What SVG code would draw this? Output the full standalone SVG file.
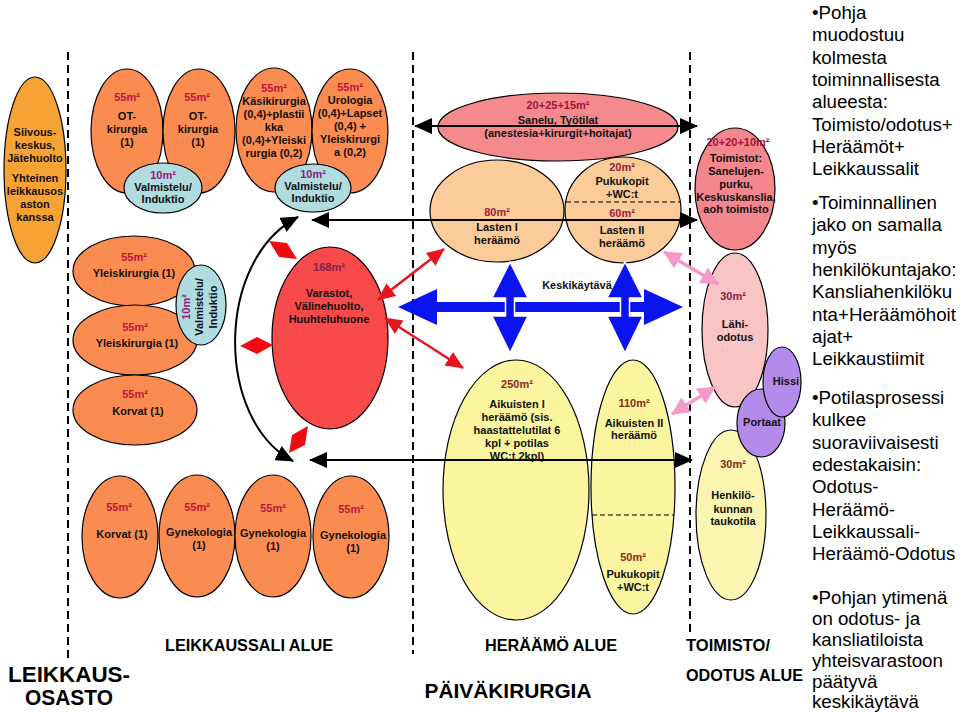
<svg xmlns="http://www.w3.org/2000/svg" width="960" height="713" viewBox="0 0 960 713">
<defs>
<style>
.n{stroke:#000;stroke-width:1.2}
.or{fill:#FA8C52}
.bl{fill:#B0DCE0}
.t{font-family:"Liberation Sans",Arial,sans-serif;font-weight:bold;font-size:11px;text-anchor:middle;fill:#111}
.r{fill:#C0163C}
.m{fill:#8E1A7E}
.br{fill:#8B2A20}
.side{font-family:"Liberation Sans",Arial,sans-serif;font-size:18.7px;fill:#000}
.lab{font-family:"Liberation Sans",Arial,sans-serif;font-weight:bold;fill:#000}
.dash{stroke:#000;stroke-width:2;stroke-dasharray:8 5;fill:none}
.blk{stroke:#000;stroke-width:2;fill:none;marker-start:url(#ab);marker-end:url(#ab)}
.red{stroke:#E8141E;stroke-width:2.5;fill:none;marker-start:url(#ar);marker-end:url(#ar)}
.pink{stroke:#F39AC9;stroke-width:3.5;fill:none;marker-start:url(#ap);marker-end:url(#ap)}
.blu{fill:#0A14F0;stroke:#fff;stroke-width:1.5}
.dia{fill:#F00A14}
</style>
<marker id="ab" viewBox="0 0 18 16" refX="17" refY="8" markerWidth="18" markerHeight="16" markerUnits="userSpaceOnUse" orient="auto-start-reverse"><path d="M0,0 L18,8 L0,16 z" fill="#000"/></marker>
<marker id="ar" viewBox="0 0 18 16" refX="17" refY="8" markerWidth="18" markerHeight="16" markerUnits="userSpaceOnUse" orient="auto-start-reverse"><path d="M0,0 L18,8 L0,16 z" fill="#E8141E"/></marker>
<marker id="ap" viewBox="0 0 18 18" refX="17" refY="9" markerWidth="18" markerHeight="18" markerUnits="userSpaceOnUse" orient="auto-start-reverse"><path d="M0,0 L18,9 L0,18 z" fill="#F39AC9"/></marker>
</defs>
<rect width="960" height="713" fill="#fff"/>

<g id="dividers">
<line class="dash" x1="68" y1="52" x2="68" y2="658"/>
<line class="dash" x1="413" y1="52" x2="413" y2="654"/>
<line class="dash" x1="690" y1="52" x2="690" y2="636"/>
</g>

<g id="n-siivous">
<ellipse class="n" cx="35" cy="170" rx="31" ry="93" fill="#F7A234"/>
<text class="t"><tspan x="35" y="136">Siivous-</tspan><tspan x="35" y="149">keskus,</tspan><tspan x="35" y="162">Jätehuolto</tspan><tspan x="35" y="182">Yhteinen</tspan><tspan x="35" y="195">leikkausos</tspan><tspan x="35" y="208">aston</tspan><tspan x="35" y="221">kanssa</tspan></text>
</g>
<g id="n-ot1">
<ellipse class="n or" cx="127" cy="131" rx="36" ry="62"/>
<text class="t"><tspan class="r" x="127" y="101">55m²</tspan><tspan x="127" y="120">OT-</tspan><tspan x="127" y="133">kirurgia</tspan><tspan x="127" y="146">(1)</tspan></text>
</g>
<g id="n-ot2">
<ellipse class="n or" cx="199" cy="131" rx="36" ry="62"/>
<text class="t"><tspan class="r" x="197" y="101">55m²</tspan><tspan x="198" y="120">OT-</tspan><tspan x="198" y="133">kirurgia</tspan><tspan x="198" y="146">(1)</tspan></text>
</g>
<g id="n-val1">
<ellipse class="n bl" cx="163" cy="188" rx="39" ry="25"/>
<text class="t"><tspan class="m" x="163" y="179">10m²</tspan><tspan x="163" y="191">Valmistelu/</tspan><tspan x="163" y="203">Induktio</tspan></text>
</g>
<g id="n-kasi">
<ellipse class="n or" cx="274" cy="130" rx="38" ry="62"/>
<text class="t"><tspan class="r" x="274" y="92">55m²</tspan><tspan x="274" y="105">Käsikirurgia</tspan><tspan x="274" y="118">(0,4)+plastii</tspan><tspan x="274" y="131">kka</tspan><tspan x="274" y="144">(0,4)+Yleiski</tspan><tspan x="274" y="157">rurgia (0,2)</tspan></text>
</g>
<g id="n-uro">
<ellipse class="n or" cx="350" cy="131" rx="38" ry="62"/>
<text class="t"><tspan class="r" x="350" y="91">55m²</tspan><tspan x="350" y="104">Urologia</tspan><tspan x="350" y="117">(0,4)+Lapset</tspan><tspan x="350" y="130">(0,4) +</tspan><tspan x="350" y="143">Yleiskirurgi</tspan><tspan x="350" y="156">a (0,2)</tspan></text>
</g>
<g id="n-val2">
<ellipse class="n bl" cx="313" cy="188" rx="38" ry="24"/>
<text class="t"><tspan class="m" x="313" y="178">10m²</tspan><tspan x="313" y="190">Valmistelu/</tspan><tspan x="313" y="202">Induktio</tspan></text>
</g>
<g id="n-yleis1">
<ellipse class="n or" cx="134" cy="271" rx="61" ry="35"/>
<text class="t"><tspan class="r" x="134" y="261">55m²</tspan><tspan x="134" y="277">Yleiskirurgia (1)</tspan></text>
</g>
<g id="n-yleis2">
<ellipse class="n or" cx="135" cy="340" rx="62" ry="35"/>
<text class="t"><tspan class="r" x="135" y="331">55m²</tspan><tspan x="137" y="347">Yleiskirurgia (1)</tspan></text>
</g>
<g id="n-val3">
<ellipse class="n bl" cx="201" cy="305" rx="25" ry="40"/>
<text class="t" transform="rotate(-90 201 307)"><tspan class="m" x="201" y="296">10m²</tspan><tspan x="201" y="309">Valmistelu/</tspan><tspan x="201" y="323">Induktio</tspan></text>
</g>
<g id="n-korvat1">
<ellipse class="n or" cx="135" cy="410" rx="62" ry="35"/>
<text class="t"><tspan class="r" x="135" y="398">55m²</tspan><tspan x="138" y="415">Korvat (1)</tspan></text>
</g>
<g id="n-korvat2">
<ellipse class="n or" cx="120" cy="537" rx="38" ry="61"/>
<text class="t"><tspan class="r" x="119" y="511">55m²</tspan><tspan x="122" y="538">Korvat (1)</tspan></text>
</g>
<g id="n-gyn1">
<ellipse class="n or" cx="197" cy="536" rx="38" ry="61"/>
<text class="t"><tspan class="r" x="197" y="511">55m²</tspan><tspan x="199" y="536">Gynekologia</tspan><tspan x="199" y="549">(1)</tspan></text>
</g>
<g id="n-gyn2">
<ellipse class="n or" cx="273" cy="536" rx="38" ry="61"/>
<text class="t"><tspan class="r" x="273" y="512">55m²</tspan><tspan x="273" y="537">Gynekologia</tspan><tspan x="273" y="550">(1)</tspan></text>
</g>
<g id="n-gyn3">
<ellipse class="n or" cx="351" cy="537" rx="38" ry="61"/>
<text class="t"><tspan class="r" x="351" y="513">55m²</tspan><tspan x="353" y="539">Gynekologia</tspan><tspan x="353" y="552">(1)</tspan></text>
</g>
<g id="n-varastot">
<ellipse class="n" cx="330" cy="338" rx="58" ry="91" fill="#F84A4A"/>
<text class="t"><tspan fill="#8B1F45" x="329" y="271">168m²</tspan><tspan x="329" y="297">Varastot,</tspan><tspan x="329" y="310">Välinehuolto,</tspan><tspan x="329" y="323">Huuhteluhuone</tspan></text>
</g>
<g id="n-sanelu">
<ellipse class="n" cx="558" cy="127" rx="120" ry="34" fill="#F58A8E"/>
<text class="t"><tspan fill="#A0143C" x="558" y="109">20+25+15m²</tspan><tspan x="558" y="124">Sanelu, Työtilat</tspan><tspan x="558" y="137">(anestesia+kirurgit+hoitajat)</tspan></text>
</g>
<g id="n-lasten1">
<ellipse class="n" cx="497" cy="211" rx="67" ry="51" fill="#FBCB9A"/>
<text class="t"><tspan fill="#A0203A" x="497" y="216">80m²</tspan><tspan x="497" y="231">Lasten I</tspan><tspan x="497" y="244">heräämö</tspan></text>
</g>
<g id="n-lasten2">
<ellipse class="n" cx="623" cy="210" rx="58" ry="53" fill="#FBCB9A"/>
<line x1="566" y1="202" x2="680" y2="202" stroke="#000" stroke-width="1.2" stroke-dasharray="5 3"/>
<text class="t"><tspan fill="#A0203A" x="622" y="171">20m²</tspan><tspan x="622" y="185">Pukukopit</tspan><tspan x="622" y="198">+WC:t</tspan><tspan fill="#A0203A" x="622" y="217">60m²</tspan><tspan x="622" y="234">Lasten II</tspan><tspan x="622" y="247">heräämö</tspan></text>
</g>
<g id="n-aikuisten1">
<ellipse class="n" cx="516" cy="490" rx="73" ry="130" fill="#FAF59E"/>
<text class="t"><tspan class="br" x="517" y="388">250m²</tspan><tspan x="517" y="408">Aikuisten I</tspan><tspan x="517" y="421">heräämö (sis.</tspan><tspan x="517" y="434">haastattelutilat 6</tspan><tspan x="517" y="447">kpl + potilas</tspan><tspan x="517" y="460">WC:t 2kpl)</tspan></text>
</g>
<g id="n-aikuisten2">
<ellipse class="n" cx="633" cy="487" rx="42" ry="127" fill="#FAF59E"/>
<line x1="592" y1="515" x2="674" y2="515" stroke="#000" stroke-width="1.2" stroke-dasharray="5 3"/>
<text class="t"><tspan class="br" x="634" y="407">110m²</tspan><tspan x="634" y="427">Aikuisten II</tspan><tspan x="634" y="439">heräämö</tspan><tspan class="br" x="633" y="561">50m²</tspan><tspan x="633" y="578">Pukukopit</tspan><tspan x="633" y="591">+WC:t</tspan></text>
</g>
<g id="n-toimistot">
<ellipse class="n" cx="735" cy="189" rx="40" ry="61" fill="#F4878E"/>
<text class="t"><tspan fill="#A0143C" x="738" y="146">20+20+10m²</tspan><tspan x="736" y="162">Toimistot:</tspan><tspan x="736" y="175">Sanelujen-</tspan><tspan x="736" y="188">purku,</tspan><tspan x="736" y="201">Keskuskanslia,</tspan><tspan x="736" y="213">aoh toimisto</tspan></text>
</g>
<g id="n-lahiodotus">
<ellipse class="n" cx="735" cy="330" rx="33" ry="77" fill="#F8C4C4"/>
<text class="t"><tspan fill="#8B1F45" x="733" y="300">30m²</tspan><tspan x="735" y="328">Lähi-</tspan><tspan x="735" y="341">odotus</tspan></text>
</g>
<g id="n-henkilokunnan">
<ellipse class="n" cx="731" cy="515" rx="35" ry="85" fill="#FAF6B2"/>
<text class="t"><tspan class="br" x="733" y="468">30m²</tspan><tspan x="733" y="499">Henkilö-</tspan><tspan x="733" y="513">kunnan</tspan><tspan x="733" y="525">taukotila</tspan></text>
</g>
<g id="n-portaat">
<ellipse class="n" cx="761" cy="423" rx="24" ry="34" fill="#B48BEA"/>
<text class="t" x="762" y="426">Portaat</text>
</g>
<g id="n-hissi">
<ellipse class="n" cx="782" cy="382" rx="19" ry="35" fill="#B48BEA"/>
<text class="t" x="786" y="385">Hissi</text>
</g>

<g id="connectors">
<line class="blk" x1="415" y1="126" x2="697" y2="126"/>
<line class="blk" x1="312" y1="220" x2="697" y2="220"/>
<line class="blk" x1="310" y1="460" x2="692" y2="460"/>
<path class="blk" d="M298,217 C215,260 215,420 293,461"/>
<line class="red" x1="378" y1="300" x2="444" y2="249"/>
<line class="red" x1="385" y1="318" x2="463" y2="368"/>
<line class="pink" x1="664" y1="252" x2="718" y2="284"/>
<line class="pink" x1="672" y1="414" x2="715" y2="387"/>
<polygon fill="#0A14F0" points="398,307 437,289 437,302 644,302 644,289 683,307 644,325 644,312 437,312 437,325"/>
<polygon class="blu" points="510,262 528,298 514.5,298 514.5,316 528,316 510,353 492,316 505.5,316 505.5,298 492,298"/>
<polygon class="blu" points="625,262 643,298 629.5,298 629.5,316 643,316 625,353 607,316 620.5,316 620.5,298 607,298"/>
<polygon class="dia" points="269,241 287,243 297,259 279,257"/>
<polygon class="dia" points="240,346 257,337 273,345 257,354"/>
<polygon class="dia" points="308,426 305,445 289,453 292,435"/>
</g>

<g id="labels">
<text class="t" x="577" y="289">Keskikäytävä</text>
<text class="lab" x="249" y="651" font-size="16.5" text-anchor="middle" textLength="168" lengthAdjust="spacingAndGlyphs">LEIKKAUSSALI ALUE</text>
<text class="lab" x="551" y="651" font-size="16.5" text-anchor="middle" textLength="132" lengthAdjust="spacingAndGlyphs">HERÄÄMÖ ALUE</text>
<text class="lab" x="686" y="651" font-size="16.5" textLength="84" lengthAdjust="spacingAndGlyphs">TOIMISTO/</text>
<text class="lab" x="686" y="681" font-size="16.5" textLength="117" lengthAdjust="spacingAndGlyphs">ODOTUS ALUE</text>
<text class="lab" x="69" y="682" font-size="22" text-anchor="middle" textLength="122" lengthAdjust="spacingAndGlyphs">LEIKKAUS-</text>
<text class="lab" x="69" y="705" font-size="22" text-anchor="middle" textLength="88" lengthAdjust="spacingAndGlyphs">OSASTO</text>
<text class="lab" x="508" y="698" font-size="21" text-anchor="middle" textLength="167" lengthAdjust="spacingAndGlyphs">PÄIVÄKIRURGIA</text>
</g>

<g id="notes">
<text class="side"><tspan x="812" y="19">•Pohja</tspan><tspan x="812" y="41.3">muodostuu</tspan><tspan x="812" y="63.6">kolmesta</tspan><tspan x="812" y="85.9">toiminnallisesta</tspan><tspan x="812" y="108.2">alueesta:</tspan><tspan x="812" y="130.5">Toimisto/odotus+</tspan><tspan x="812" y="152.8">Heräämöt+</tspan><tspan x="812" y="175.1">Leikkaussalit</tspan></text>
<text class="side"><tspan x="812" y="209">•Toiminnallinen</tspan><tspan x="812" y="231.3">jako on samalla</tspan><tspan x="812" y="253.6">myös</tspan><tspan x="812" y="275.9">henkilökuntajako:</tspan><tspan x="812" y="298.2">Kansliahenkilöku</tspan><tspan x="812" y="320.5">nta+Heräämöhoit</tspan><tspan x="812" y="342.8">ajat+</tspan><tspan x="812" y="365.1">Leikkaustiimit</tspan></text>
<text class="side"><tspan x="812" y="404">•Potilasprosessi</tspan><tspan x="812" y="426.3">kulkee</tspan><tspan x="812" y="448.6">suoraviivaisesti</tspan><tspan x="812" y="470.9">edestakaisin:</tspan><tspan x="812" y="493.2">Odotus-</tspan><tspan x="812" y="515.5">Heräämö-</tspan><tspan x="812" y="537.8">Leikkaussali-</tspan><tspan x="812" y="560.1">Heräämö-Odotus</tspan></text>
<text class="side"><tspan x="812" y="604">•Pohjan ytimenä</tspan><tspan x="812" y="625">on odotus- ja</tspan><tspan x="812" y="646">kansliatiloista</tspan><tspan x="812" y="667">yhteisvarastoon</tspan><tspan x="812" y="688">päätyvä</tspan><tspan x="812" y="708">keskikäytävä</tspan></text>
</g>
</svg>
